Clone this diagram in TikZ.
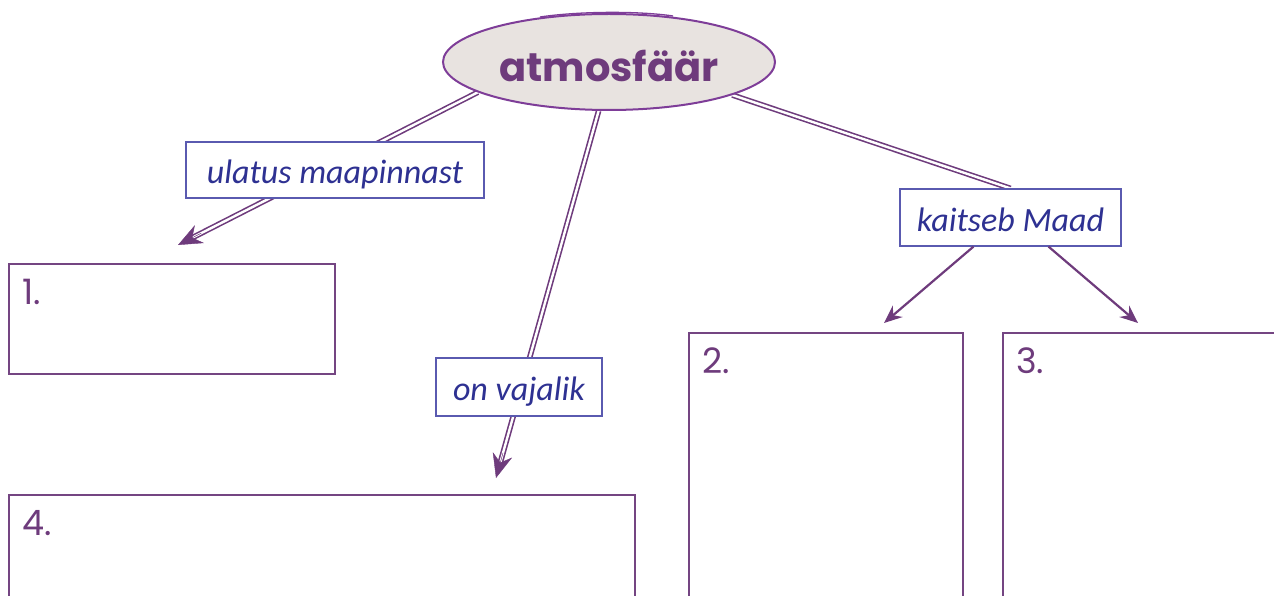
\documentclass[tikz,border=0pt]{standalone}
\usepackage{fontspec}
\setmainfont{Carlito}
\newfontfamily\handfont{Poppins}
\usetikzlibrary{shapes.geometric,arrows.meta,calc}
\pgfdeclarelayer{bg}
\pgfsetlayers{bg,main}
\definecolor{plum}{HTML}{6E3B7C}
\definecolor{plumline}{HTML}{744582}
\definecolor{ovalline}{HTML}{7E3D98}
\definecolor{ovalfill}{HTML}{E8E3E0}
\definecolor{ink}{HTML}{2E3192}
\definecolor{tagline}{HTML}{5A5AB0}
\tikzset{
  oval/.style={ellipse, draw=ovalline, line width=2pt, fill=ovalfill,
    minimum width=332pt, minimum height=96pt, inner sep=0pt,
    text height=44pt, text depth=4pt,
    text=plum, font=\handfont\bfseries\fontsize{40}{44}\selectfont},
  tag/.style={draw=tagline, line width=1.2pt, fill=white, text=ink,
    inner sep=0pt, text height=31pt, text depth=4pt,
    font=\itshape\fontsize{34}{40}\selectfont},
  answer/.style={draw=plumline, line width=2.2pt, inner sep=0pt, anchor=north west},
  num/.style={anchor=base west, text=plum, inner sep=0pt,
    font=\handfont\fontsize{35}{40}\selectfont},
  dbl/.style={draw=plum, double=white, double distance=2.4pt, line width=1.6pt},
  bighead/.style={-{Stealth[length=24pt,width=20pt,inset=8pt]}, draw=plum, fill=plum, line width=0.4pt},
  thin/.style={-{Stealth[length=18pt,width=15pt,inset=6pt]}, draw=plum, line width=2.2pt},
}
\begin{document}
\begin{tikzpicture}[x=1pt,y=-1pt]
\useasboundingbox (0,0) rectangle (1274,596);
\clip (0,0) rectangle (1274,596);

% central concept, with a second pencil stroke along its top
\node[oval] (atm) at (609,62) {atmosfäär};
\draw[ovalline, line width=1.3pt] ($(atm.center)+(-69,-45)$)
  .. controls ($(atm.center)+(-29,-51)$) and ($(atm.center)+(31,-51)$) .. ($(atm.center)+(64,-46)$);

% answer boxes
\node[answer, minimum width=326pt, minimum height=110pt] (b1) at (8,263) {};
\node[answer, minimum width=626pt, minimum height=140pt] (b4) at (8,494) {};
\node[answer, minimum width=274pt, minimum height=290pt] (b2) at (688,332) {};
\node[answer, minimum width=320pt, minimum height=290pt] (b3) at (1002,332) {};
\node[num] (n1) at ($(b1.north west)+(14,41)$) {1.};
\node[num] (n4) at ($(b4.north west)+(14,41)$) {4.};
\node[num] (n2) at ($(b2.north west)+(14,41)$) {2.};
\node[num] (n3) at ($(b3.north west)+(14,41)$) {3.};

% link labels
\node[tag, minimum width=298pt, minimum height=56pt] (l1) at (335,170) {ulatus maapinnast};
\node[tag, minimum width=166pt, minimum height=58pt] (l2) at (519,387) {on vajalik};
\node[tag, minimum width=221pt, minimum height=57pt] (l3) at (1010.5,217.5) {kaitseb Maad};

% arrow end points above the boxes
\coordinate (t1) at (178,245);
\coordinate (t2) at (496,478);
\coordinate (t3) at (884,323);
\coordinate (t4) at (1138,323);

\begin{pgfonlayer}{bg}
  \draw[dbl] (atm.193) -- ($(t1)!10pt!(atm.193)$);
  \draw[dbl] (atm.258) -- ($(t2)!10pt!(atm.258)$);
  \draw[dbl] (atm.345) -- (l3.north);
\end{pgfonlayer}
\draw[bighead] ($(t1)!26pt!(atm.193)$) -- (t1);
\draw[bighead] ($(t2)!26pt!(atm.258)$) -- (t2);
\draw[thin] ($(l3.south)+(-37,0)$) -- (t3);
\draw[thin] ($(l3.south)+(38,0)$) -- (t4);
\end{tikzpicture}
\end{document}
